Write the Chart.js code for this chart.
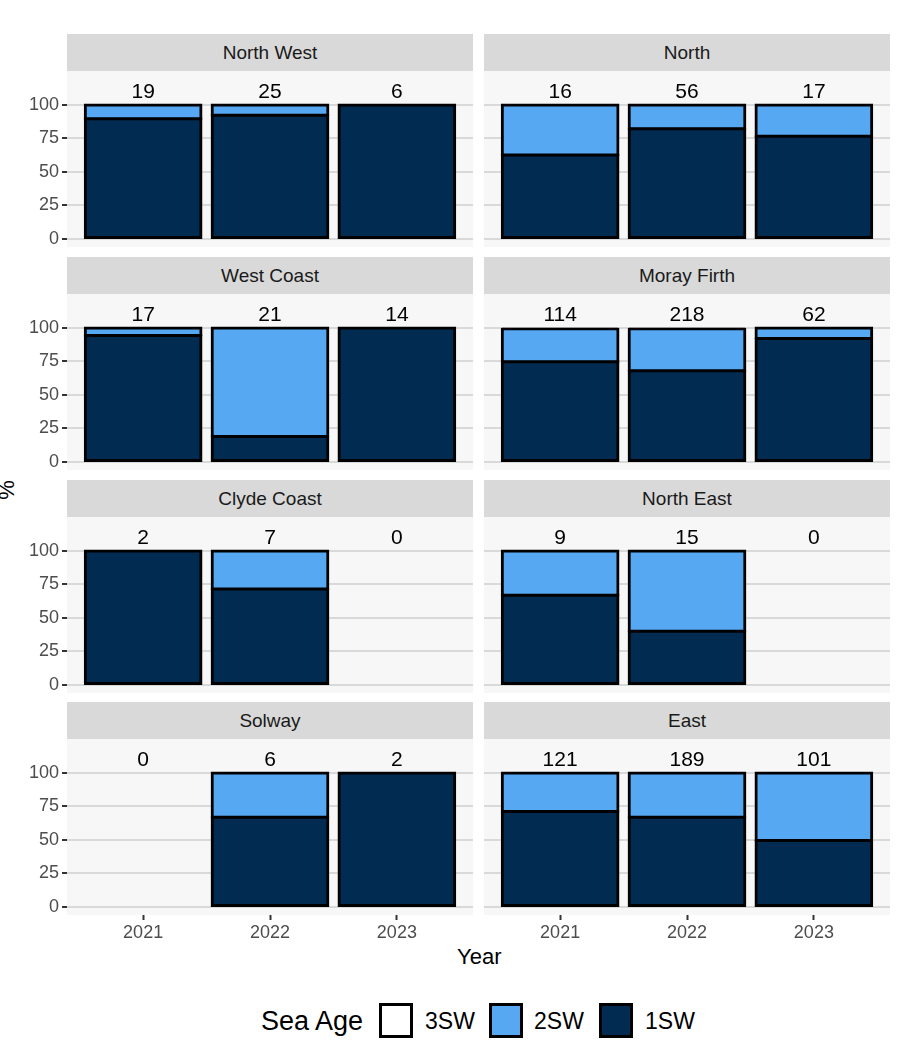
<!DOCTYPE html>
<html>
<head>
<meta charset="utf-8">
<script src="https://cdn.jsdelivr.net/npm/chart.js@4/dist/chart.umd.min.js"></script>
<style>
    body { margin: 0; background: #fff; font-family: "Liberation Sans", Arial, sans-serif; }
    #page { position: relative; width: 904px; height: 1052px; overflow: hidden; }
    .strip { position: absolute; width: 406px; height: 37px; line-height: 37px; background: #d9d9d9;
             color: #1a1a1a; font-size: 19px; text-align: center; }
    .panel { position: absolute; }
    .axis-title { position: absolute; font-size: 22px; line-height: 22px; color: #000; }
    .key { position: absolute; top: 1003px; width: 28px; height: 29px; border: 3px solid #000; }
    .key-label { position: absolute; top: 1008px; font-size: 23px; line-height: 26px; color: #000; }
</style>
</head>
<body>
<div id="page">
    <div class="axis-title" style="left:-3px; top:479px; transform:rotate(-90deg);">%</div>
    <div class="axis-title" style="left:457px; top:946px;">Year</div>

    <div class="axis-title" style="left:261px; top:1006px; font-size:27px; line-height:30px;">Sea Age</div>
    <div class="key" style="left:379px; background:#ffffff;"></div>
    <div class="key-label" style="left:425px;">3SW</div>
    <div class="key" style="left:489px; background:#55a8f1;"></div>
    <div class="key-label" style="left:534px;">2SW</div>
    <div class="key" style="left:599px; background:#012b50;"></div>
    <div class="key-label" style="left:645px;">1SW</div>
</div>
<script>
// Regions in facet order (row by row, left then right)
const regions = ['North West', 'North', 'West Coast', 'Moray Firth',
                 'Clyde Coast', 'North East', 'Solway', 'East'];
const years = ['2021', '2022', '2023'];
const yTicks = [0, 25, 50, 75, 100];

// Number of fish per region and year (label above each bar)
const fishCounts = [
    [19, 25, 6], [16, 56, 17],
    [17, 21, 14], [114, 218, 62],
    [2, 7, 0], [9, 15, 0],
    [0, 6, 2], [121, 189, 101]
];

// Percentage by sea age (null = no fish sampled)
const oneSW = [
    [89.5, 92, 100], [62.5, 82.1, 76.5],
    [94.1, 19.0, 100], [74.6, 67.9, 91.9],
    [100, 71.4, null], [66.7, 40, null],
    [null, 66.7, 100], [71.1, 66.7, 49.5]
];
const twoSW = [
    [10.5, 8, null], [37.5, 17.9, 23.5],
    [5.9, 81.0, null], [24.6, 31.2, 8.1],
    [null, 28.6, null], [33.3, 60, null],
    [null, 33.3, null], [28.9, 33.3, 50.5]
];
const threeSW = [
    [null, null, null], [null, null, null],
    [null, null, null], [0.9, 0.9, null],
    [null, null, null], [null, null, null],
    [null, null, null], [null, null, null]
];

const seaAges = [
    { label: '1SW', values: oneSW, color: '#012b50' },
    { label: '2SW', values: twoSW, color: '#55a8f1' },
    { label: '3SW', values: threeSW, color: '#ffffff' }
];

// Facet layout
const rowTops = [34, 257, 480, 702];
const colLefts = [67, 484];
const stripH = 37;
const panelW = 406;
const panelH = 176;
const yAxisW = 67;
const xAxisH = 32;

Chart.defaults.font.family = '"Liberation Sans", Arial, sans-serif';

// Light grey panel background
const panelBackground = {
    id: 'panelBackground',
    beforeDraw(chart) {
        const { ctx, chartArea } = chart;
        ctx.save();
        ctx.fillStyle = '#f7f7f7';
        ctx.fillRect(chartArea.left, chartArea.top, chartArea.width, chartArea.height);
        ctx.restore();
    }
};

// Fish counts written above the bars
const countLabels = {
    id: 'countLabels',
    afterDatasetsDraw(chart, args, opts) {
        const { ctx, scales: { x, y } } = chart;
        ctx.save();
        ctx.font = '21px "Liberation Sans", Arial, sans-serif';
        ctx.fillStyle = '#000';
        ctx.textAlign = 'center';
        ctx.textBaseline = 'middle';
        opts.counts.forEach((n, j) => {
            ctx.fillText(String(n), x.getPixelForValue(j + 1), y.getPixelForValue(109.5));
        });
        ctx.restore();
    }
};

// Outer edges 3px; edges shared by two segments overlap into one 3px line
function segmentBorder(r, j, d) {
    const present = seaAges.map((s, k) => (s.values[r][j] ? k : -1)).filter(k => k >= 0);
    const bottom = present[0];
    const top = present[present.length - 1];
    return {
        left: 3,
        right: 3,
        top: d === top ? 3 : 2.5,
        bottom: d === bottom ? 3 : 2.5
    };
}

const page = document.getElementById('page');

regions.forEach((region, r) => {
    const row = Math.floor(r / 2);
    const col = r % 2;
    const isLeft = col === 0;
    const isBottom = row === rowTops.length - 1;

    const strip = document.createElement('div');
    strip.className = 'strip';
    strip.style.left = colLefts[col] + 'px';
    strip.style.top = rowTops[row] + 'px';
    strip.textContent = region;
    page.appendChild(strip);

    const width = isLeft ? colLefts[col] + panelW : panelW;
    const height = panelH + (isBottom ? xAxisH : 0);
    const holder = document.createElement('div');
    holder.className = 'panel';
    holder.style.left = (isLeft ? 0 : colLefts[col]) + 'px';
    holder.style.top = (rowTops[row] + stripH) + 'px';
    const canvas = document.createElement('canvas');
    canvas.width = width;
    canvas.height = height;
    holder.appendChild(canvas);
    page.appendChild(holder);

    new Chart(canvas.getContext('2d'), {
        type: 'bar',
        data: {
            datasets: seaAges.map((s, d) => ({
                label: s.label,
                data: s.values[r].map((v, j) => ({ x: j + 1, y: v })),
                backgroundColor: s.color,
                borderColor: '#000',
                borderSkipped: false,
                borderWidth: ctx => segmentBorder(r, ctx.dataIndex, d),
                // the very thin 3SW slivers stay all border, as in the original
                inflateAmount: d === 2 ? 0 : 1,
                barPercentage: 0.92,
                categoryPercentage: 1
            }))
        },
        options: {
            responsive: false,
            animation: false,
            devicePixelRatio: 1,
            layout: { padding: 0 },
            plugins: {
                legend: { display: false },
                tooltip: { enabled: false },
                countLabels: { counts: fishCounts[r] }
            },
            scales: {
                x: {
                    type: 'linear',
                    stacked: true,
                    min: 0.4,
                    max: 3.6,
                    offset: false,
                    display: isBottom,
                    afterBuildTicks: s => { s.ticks = years.map((y, j) => ({ value: j + 1 })); },
                    afterFit: s => {
                        s.height = isBottom ? xAxisH : 0;
                        s.paddingLeft = 0;
                        s.paddingRight = 0;
                    },
                    ticks: {
                        color: '#4d4d4d',
                        font: { size: 18 },
                        padding: 2,
                        autoSkip: false,
                        maxRotation: 0,
                        callback: v => years[v - 1]
                    },
                    grid: {
                        offset: false,
                        drawOnChartArea: false,
                        tickLength: 5,
                        tickColor: '#333',
                        tickWidth: 2
                    },
                    border: { display: false }
                },
                y: {
                    stacked: true,
                    min: -6,
                    max: 125,
                    afterBuildTicks: s => { s.ticks = yTicks.map(v => ({ value: v })); },
                    afterFit: s => {
                        s.width = isLeft ? yAxisW : 0;
                        s.paddingTop = 0;
                        s.paddingBottom = 0;
                    },
                    ticks: { display: isLeft, color: '#4d4d4d', font: { size: 18 }, padding: 3 },
                    grid: {
                        color: '#d9d9d9',
                        lineWidth: 2,
                        drawTicks: isLeft,
                        tickLength: 5,
                        tickColor: '#333',
                        tickWidth: 2
                    },
                    border: { display: false }
                }
            }
        },
        plugins: [panelBackground, countLabels]
    });
});
</script>
</body>
</html>
